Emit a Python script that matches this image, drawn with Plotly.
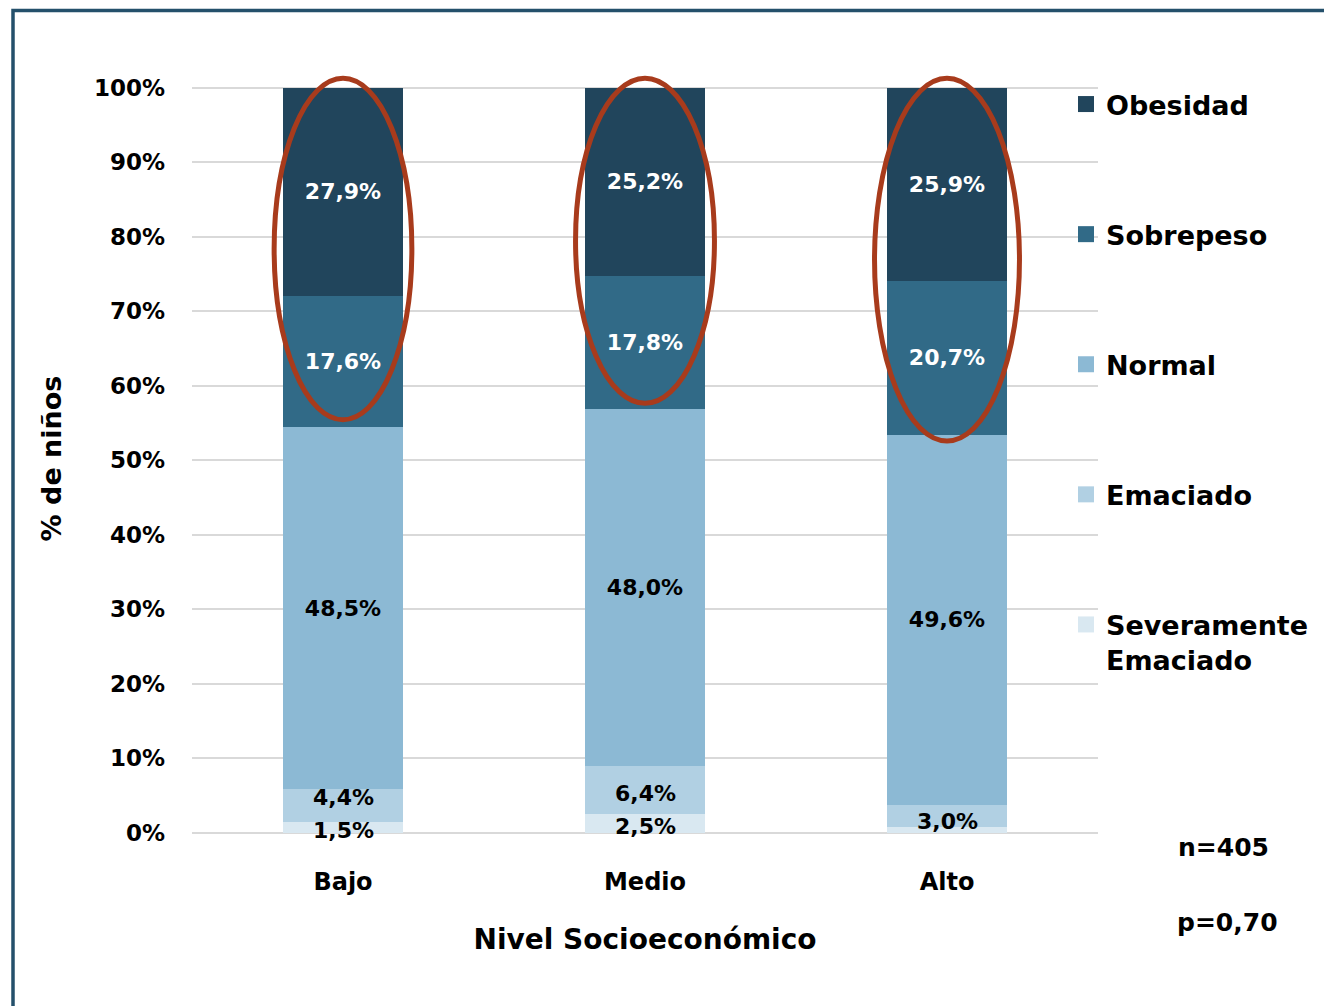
import plotly.graph_objects as go

categories = ["Bajo", "Medio", "Alto"]
series_names = ["Severamente Emaciado", "Emaciado", "Normal", "Sobrepeso", "Obesidad"]
sev_emaciado = [1.5, 2.5, 0.8]
emaciado = [4.4, 6.4, 3.0]
normal = [48.5, 48.0, 49.6]
sobrepeso = [17.6, 17.8, 20.7]
obesidad = [27.9, 25.2, 25.9]
hidden_labels = [("Severamente Emaciado", "Alto")]
y_ticks = [0, 10, 20, 30, 40, 50, 60, 70, 80, 90, 100]
n_text = "n=405"
p_text = "p=0,70"

series_values = [sev_emaciado, emaciado, normal, sobrepeso, obesidad]
legend_names = ["Severamente<br>Emaciado", "Emaciado", "Normal", "Sobrepeso", "Obesidad"]
colors = ["#D9E8F1", "#B1D0E3", "#8CB9D4", "#316A87", "#21455C"]
text_colors = ["#000000", "#000000", "#000000", "#FFFFFF", "#FFFFFF"]
# small segments get their labels as annotations with a pixel nudge (style)
small_series = ["Severamente Emaciado", "Emaciado"]
label_nudge = {("Emaciado", "Bajo"): 8, ("Severamente Emaciado", "Bajo"): -3,
               ("Emaciado", "Medio"): -3, ("Severamente Emaciado", "Medio"): -3,
               ("Emaciado", "Alto"): -6}
# ellipse styling per category (bottom pad in %, half width in category units)
ellipse_pad = [1.0, 0.7, -0.8]
ellipse_half = [0.228, 0.23, 0.24]

FONT = "DejaVu Sans"

# page geometry (browser body adds an 8px offset)
OFF = 8
W, H = 1332 - OFF, 1006 - OFF
PX_L, PX_R, PX_T, PX_B = 192, 1098, 73, 844   # plot area in page pixels
PW, PH = PX_R - PX_L, PX_B - PX_T


def px(xp):
    return (xp - PX_L) / PW


def py(yp):
    return (PX_B - yp) / PH


totals = [sum(s[i] for s in series_values) for i in range(len(categories))]

fig = go.Figure()
n_series = len(series_names)
cum = [0.0] * len(categories)
for k, (name, lname, vals, col, tcol) in enumerate(zip(series_names, legend_names, series_values, colors, text_colors)):
    texts = []
    for i, (cat, v) in enumerate(zip(categories, vals)):
        lab = f"{v:.1f}%".replace(".", ",")
        if (name, cat) in hidden_labels:
            texts.append("")
        elif name in small_series:
            texts.append("")
            mid = (cum[i] + v / 2) / totals[i] * 100
            fig.add_annotation(x=cat, y=mid, xref="x", yref="y", text=f"<b>{lab}</b>",
                               showarrow=False, yshift=label_nudge.get((name, cat), 0),
                               font=dict(family=FONT, size=22, color=tcol))
        else:
            texts.append(lab)
        cum[i] += v
    fig.add_trace(go.Bar(
        x=categories, y=vals, name=lname, showlegend=False,
        marker=dict(color=col, line=dict(width=0)),
        text=texts, textposition="inside", insidetextanchor="middle",
        constraintext="none", cliponaxis=False,
        textfont=dict(family=FONT, size=22, color=tcol, weight="bold"),
        hoverinfo="skip",
    ))
    # legend entry with a larger square swatch
    fig.add_trace(go.Scatter(
        x=[None], y=[None], mode="markers", name=lname,
        legendgroup=name, legendrank=n_series - k,
        marker=dict(symbol="square", size=16, color=col),
        hoverinfo="skip",
    ))

# ellipses highlighting Sobrepeso + Obesidad
for i, cat in enumerate(categories):
    normal_top = (sev_emaciado[i] + emaciado[i] + normal[i]) / totals[i] * 100
    fig.add_shape(type="circle", xref="x", yref="y",
                  x0=i - ellipse_half[i], x1=i + ellipse_half[i],
                  y0=normal_top + ellipse_pad[i], y1=101.3,
                  line=dict(color="#A83B1C", width=5), layer="above")

# outer frame
fig.add_shape(type="rect", xref="paper", yref="paper",
              x0=px(13), x1=1.5, y0=-0.5, y1=py(10.5),
              line=dict(color="#24506B", width=3.5), layer="below")

fig.add_annotation(text=f"<b>{n_text}</b>", xref="paper", yref="paper",
                   x=px(1223), y=py(847), xanchor="center", yanchor="middle",
                   showarrow=False, font=dict(family=FONT, size=25, color="#000000"))
fig.add_annotation(text=f"<b>{p_text}</b>", xref="paper", yref="paper",
                   x=px(1227), y=py(922), xanchor="center", yanchor="middle",
                   showarrow=False, font=dict(family=FONT, size=25, color="#000000"))

fig.update_layout(
    width=W, height=H,
    barmode="stack", barnorm="percent", bargap=0.6,
    paper_bgcolor="white", plot_bgcolor="white",
    margin=dict(l=PX_L - OFF, r=W - (PX_R - OFF), t=PX_T - OFF, b=H - (PX_B - OFF), autoexpand=False),
    font=dict(family=FONT, color="#000000"),
    showlegend=True,
    legend=dict(
        x=px(1066), xanchor="left", y=py(80), yanchor="top",
        traceorder="grouped", tracegroupgap=92, valign="top",
        font=dict(family=FONT, size=27, color="#000000", weight="bold"),
        bgcolor="rgba(0,0,0,0)", itemsizing="trace",
    ),
    xaxis=dict(
        range=[-0.5, 2.5], showgrid=False, showline=False, zeroline=False,
        tickfont=dict(family=FONT, size=24, color="#000000", weight="bold"),
        ticks="", ticklabelstandoff=21,
        title=dict(text="<b>Nivel Socioeconómico</b>", standoff=34,
                   font=dict(family=FONT, size=28, color="#000000")),
        automargin=False,
    ),
    yaxis=dict(
        range=[-1.5, 102], tickvals=y_ticks,
        ticktext=[f"{v}%" for v in y_ticks],
        showgrid=True, gridcolor="#D9D9D9", gridwidth=2,
        zeroline=True, zerolinecolor="#D9D9D9", zerolinewidth=2,
        showline=False, ticks="", ticklabelstandoff=26,
        tickfont=dict(family=FONT, size=23, color="#000000", weight="bold"),
        title=dict(text="<b>% de niños</b>", standoff=24,
                   font=dict(family=FONT, size=27, color="#000000")),
        automargin=False,
    ),
)

fig.write_html("out.html")
